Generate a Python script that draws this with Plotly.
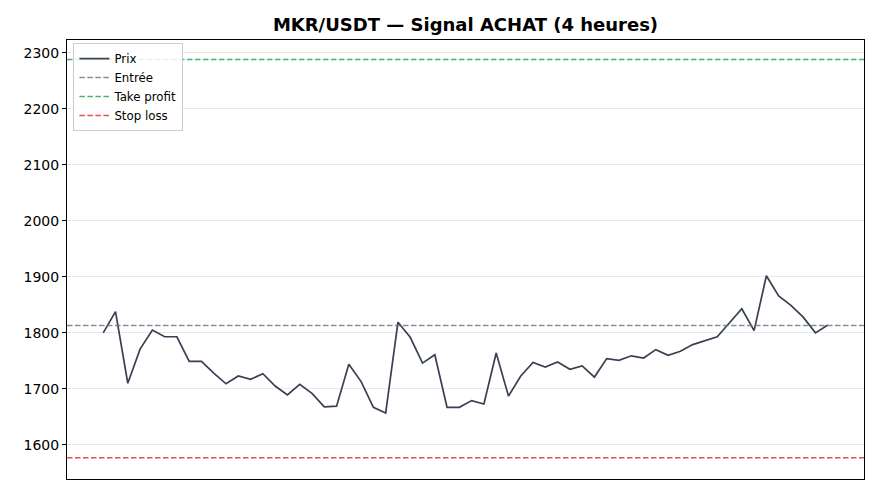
import plotly.graph_objects as go

# Prix MKR/USDT, bougies 4h
prix = [
    1800, 1838, 1710, 1771, 1805, 1793, 1793, 1749, 1749, 1728,
    1709, 1723, 1717, 1727, 1705, 1689, 1708, 1692, 1668, 1669,
    1744, 1713, 1667, 1657, 1819, 1792, 1746, 1761, 1667, 1667,
    1679, 1673, 1764, 1687, 1723, 1747, 1739, 1748, 1735, 1741,
    1721, 1754, 1751, 1759, 1755, 1770, 1760, 1767, 1779, 1786,
    1793, 1818, 1843, 1804, 1902, 1866, 1849, 1828, 1800, 1814,
]
bougies = list(range(len(prix)))

entree = 1813
take_profit = 2288
stop_loss = 1577

FONT = "DejaVu Sans"

fig = go.Figure()
fig.add_trace(go.Scatter(
    x=bougies, y=prix, mode="lines", name="Prix",
    line=dict(color="#374151", width=1.7),
))

niveaux = [
    ("Entrée", entree, "#6b7280"),
    ("Take profit", take_profit, "#16a34a"),
    ("Stop loss", stop_loss, "#dc2626"),
]
for nom, val, couleur in niveaux:
    fig.add_hline(
        y=val, line=dict(color=couleur, width=1.5, dash="5.5px,2.5px"),
        opacity=0.8, showlegend=True, name=nom, layer="above",
    )

n = len(prix) - 1
# la page ajoute ~8px de marge au body : on compense ici
fig.update_layout(
    width=880, height=495,
    margin=dict(l=59, r=24, t=32, b=24),
    paper_bgcolor="white", plot_bgcolor="white",
    font=dict(family=FONT, color="black"),
    title=dict(
        text="<b>MKR/USDT — Signal ACHAT (4 heures)</b>",
        x=0.5, xref="paper", xanchor="center", y=0.966, yanchor="middle",
        font=dict(size=18, family=FONT),
    ),
    legend=dict(
        x=0.008, y=0.993, xanchor="left", yanchor="top",
        bgcolor="rgba(255,255,255,0.85)", bordercolor="#cccccc", borderwidth=1,
        font=dict(size=11.8, family=FONT), tracegroupgap=0,
    ),
    showlegend=True,
)
fig.update_xaxes(
    range=[-0.05 * n, n * 1.05], showticklabels=False, ticks="",
    showgrid=False, zeroline=False,
    showline=True, linecolor="black", linewidth=1, mirror=True,
)
fig.update_yaxes(
    range=[1539, 2323], tickvals=[1600, 1700, 1800, 1900, 2000, 2100, 2200, 2300],
    ticks="outside", ticklen=4, tickcolor="black", tickfont=dict(size=14, family=FONT),
    showgrid=True, gridcolor="#e8e8e8", gridwidth=1, zeroline=False,
    showline=True, linecolor="black", linewidth=1, mirror=True,
)

fig.write_html("out.html")
